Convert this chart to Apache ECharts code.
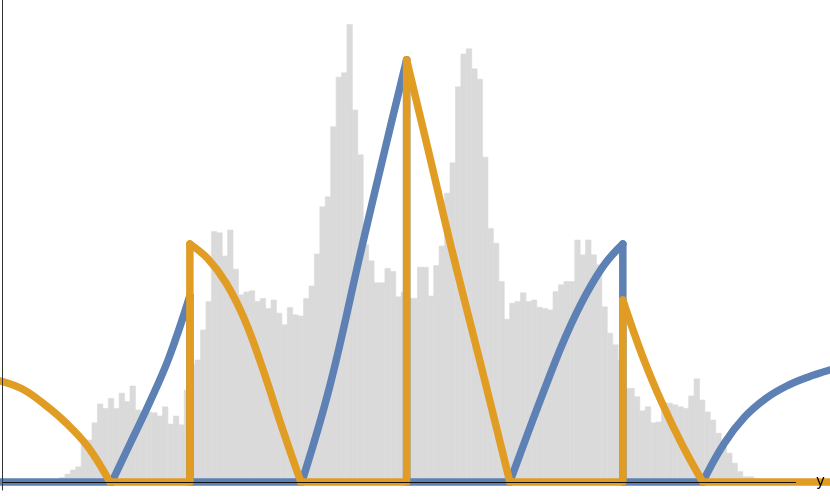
<!DOCTYPE html>
<html>
<head>
<meta charset="utf-8">
<script src="https://cdn.jsdelivr.net/npm/echarts@6/dist/echarts.min.js"></script>
<style>
  html, body { margin: 0; padding: 0; background: #fff; }
  #chart { width: 830px; height: 498px; }
</style>
</head>
<body>
<div id="chart"></div>
<script>
// histogram of y: bins start at -3.2, each 0.05 wide
var binStart = -3.2;
var binWidth = 0.05;
var binHeights = [
  0.011, 0.020, 0.030, 0.038, 0.105, 0.105, 0.148, 0.195, 0.184, 0.209,
  0.184, 0.222, 0.201, 0.240, 0.180, 0.160, 0.175, 0.173, 0.165, 0.188,
  0.145, 0.165, 0.143, 0.230, 0.293, 0.305, 0.380, 0.451, 0.626, 0.623,
  0.565, 0.630, 0.532, 0.468, 0.475, 0.478, 0.451, 0.459, 0.434, 0.455,
  0.422, 0.393, 0.436, 0.418, 0.415, 0.459, 0.490, 0.570, 0.688, 0.713,
  0.888, 1.012, 1.023, 1.144, 0.930, 0.818, 0.593, 0.553, 0.498, 0.498,
  0.534, 0.526, 0.463, 0.475, 0.460, 0.459, 0.537, 0.537, 0.465, 0.541,
  0.590, 0.722, 0.798, 0.988, 1.070, 1.083, 1.033, 1.007, 0.812, 0.634,
  0.597, 0.501, 0.407, 0.447, 0.451, 0.473, 0.451, 0.455, 0.437, 0.434,
  0.430, 0.476, 0.493, 0.501, 0.501, 0.605, 0.568, 0.605, 0.568, 0.543,
  0.438, 0.372, 0.343, 0.305, 0.234, 0.234, 0.213, 0.178, 0.188, 0.148,
  0.150, 0.198, 0.197, 0.193, 0.188, 0.184, 0.215, 0.258, 0.205, 0.175,
  0.155, 0.122, 0.097, 0.072, 0.047, 0.026, 0.013, 0.013, 0.009
];

// blue curve: curved pieces and the straight pieces (zero stretches and jumps)
var blueArcs = [
  [[-2.717, 0], [-2.542, 0.100], [-2.367, 0.200], [-2.192, 0.310], [-1.998, 0.465]],
  [[-0.966, 0], [-0.708, 0.240], [-0.419, 0.580], [-0.201, 0.830], [0, 1.055]],
  [[0.951, 0], [1.126, 0.128], [1.301, 0.253], [1.476, 0.370], [1.652, 0.468],
   [1.827, 0.545], [1.993, 0.595]],
  [[2.730, 0], [2.924, 0.095], [3.117, 0.163], [3.311, 0.209], [3.504, 0.240],
   [3.698, 0.262], [3.900, 0.280]]
];
var blueFlats = [
  [[-3.749, 0], [-2.717, 0]],
  [[-1.998, 0.465], [-1.998, 0], [-0.966, 0]],
  [[0, 1.055], [0, 0], [0.951, 0]],
  [[1.993, 0.595], [1.993, 0], [2.730, 0]]
];

// orange curve
var orangeArcs = [
  [[-3.749, 0.253], [-3.546, 0.233], [-3.343, 0.195], [-3.141, 0.148], [-2.938, 0.088],
   [-2.736, 0]],
  [[-1.998, 0.595], [-1.832, 0.558], [-1.666, 0.498], [-1.500, 0.410], [-1.335, 0.290],
   [-1.141, 0.130], [-0.975, 0]],
  [[0, 1.055], [0.214, 0.813], [0.417, 0.580], [0.675, 0.303], [0.952, 0]],
  [[1.993, 0.455], [2.177, 0.313], [2.362, 0.193], [2.546, 0.090], [2.730, 0]]
];
var orangeFlats = [
  [[-2.736, 0], [-1.998, 0], [-1.998, 0.595]],
  [[-0.975, 0], [0, 0], [0, 1.055]],
  [[0.952, 0], [1.993, 0], [1.993, 0.455]],
  [[2.730, 0], [3.903, 0]]
];

var xMin = -3.73, xMax = 3.903, axisEnd = 3.59;
var blue = "#5d81b5";
var orange = "#e19c24";
var gray = "#dadada";

var histData = binHeights.map(function (h, i) {
  var x0 = binStart + i * binWidth;
  return [x0, x0 + binWidth, h];
});

function lineSeries(pieces, color, z, smooth) {
  return pieces.map(function (pts) {
    return {
      type: "line",
      z: z,
      smooth: smooth ? 0.4 : false,
      showSymbol: false,
      symbol: "none",
      silent: true,
      lineStyle: { color: color, width: 7.5, cap: "round", join: "round" },
      data: pts
    };
  });
}

var series = [
  {
    type: "custom",
    z: 1,
    silent: true,
    renderItem: function (params, api) {
      var p0 = api.coord([api.value(0), api.value(2)]);
      var p1 = api.coord([api.value(1), 0]);
      return {
        type: "rect",
        shape: { x: p0[0], y: p0[1], width: p1[0] - p0[0], height: p1[1] - p0[1] },
        style: { fill: gray, stroke: gray, lineWidth: 0.6 }
      };
    },
    encode: { x: [0, 1], y: 2 },
    data: histData,
    // x axis line, shorter than the plot, with its name
    markLine: {
      silent: true,
      symbol: "none",
      z: 10,
      lineStyle: { color: "#111", width: 1, type: "solid" },
      label: {
        show: true,
        position: "end",
        distance: 20,
        padding: [7, 0, 0, 0],
        formatter: "y",
        fontFamily: "DejaVu Sans",
        fontSize: 15,
        color: "#000"
      },
      data: [[{ coord: [xMin, 0] }, { coord: [axisEnd, 0] }]]
    }
  }
];
series = series
  .concat(lineSeries(blueFlats, blue, 3, false))
  .concat(lineSeries(blueArcs, blue, 3, true))
  .concat(lineSeries(orangeFlats, orange, 4, false))
  .concat(lineSeries(orangeArcs, orange, 4, true));

var chart = echarts.init(document.getElementById("chart"));
chart.setOption({
  animation: false,
  grid: { left: 2, right: 0, top: 0, bottom: 8 },
  xAxis: {
    type: "value",
    min: xMin,
    max: xMax,
    axisLine: { show: false },
    axisTick: { show: false },
    axisLabel: { show: false },
    splitLine: { show: false }
  },
  yAxis: {
    type: "value",
    min: -0.02,
    max: 1.205,
    z: 10,
    axisLine: { show: true, onZero: false, lineStyle: { color: "#333", width: 1 } },
    axisTick: { show: false },
    axisLabel: { show: false },
    splitLine: { show: false }
  },
  series: series
});
</script>
</body>
</html>
